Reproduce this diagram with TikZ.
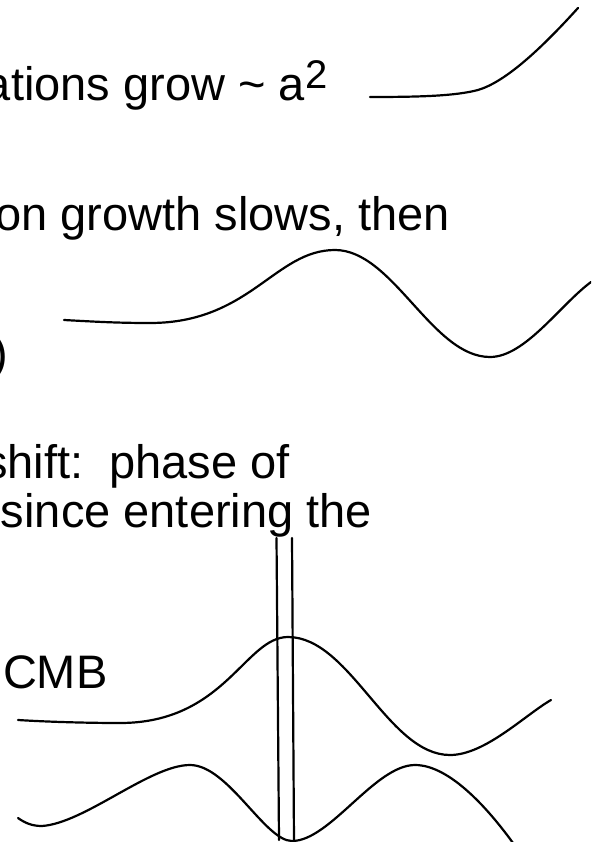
\documentclass[tikz,border=0pt]{standalone}
\usepackage{fontspec}
\setmainfont{Liberation Sans}
\begin{document}
\begin{tikzpicture}[x=1pt,y=-1pt,
  lbl/.style={inner sep=0pt, outer sep=0pt, font=\fontsize{47}{53}\selectfont\frenchspacing},
  wave/.style={line width=2.2pt, line cap=round, line join=round}]
\useasboundingbox (0,0) rectangle (591,842);
\clip (0,0) rectangle (591,842);
% texts
\node[lbl, anchor=base west] (t1) at (-15,101) {ations grow \textasciitilde{} a\raisebox{12pt}{\fontsize{40}{40}\selectfont 2}};
\node[lbl, anchor=base east] (t2) at (450,230) {on growth slows, then};
\node[lbl, anchor=base west] (t3) at (-8,369) {)};
\node[lbl, anchor=base west] (t4) at (-16,478) {shift:\ \ phase of};
\node[lbl, anchor=base east] (t5) at (372,527) {since entering the};
\node[lbl, anchor=base west] (t6) at (3,688) {CMB};
% curve 1: growth ~ a^2
\draw[wave] (370,97) .. controls (420,97) and (455,96) .. (478,90)
  .. controls (505,82) and (540,50) .. (578,8);
% curve 2: growth slows then oscillates
\draw[wave] (64,320) .. controls (100,322) and (120,323) .. (150,323)
  .. controls (250,323) and (275,250) .. (335,250)
  .. controls (393,250) and (432,357) .. (490,357)
  .. controls (525,357) and (560,305) .. (591,282);
% curve 3
\draw[wave] (18,720) .. controls (50,722) and (90,723) .. (120,723)
  .. controls (225,723) and (245,637) .. (288,637)
  .. controls (350,637) and (388,755) .. (450,755)
  .. controls (485,755) and (525,715) .. (551,700);
% curve 4
\draw[wave] (18,818) .. controls (25,823) and (32,826) .. (42,826)
  .. controls (85,823) and (150,765) .. (190,765)
  .. controls (228,765) and (265,841) .. (292,841)
  .. controls (330,841) and (375,765) .. (415,765)
  .. controls (450,765) and (490,810) .. (518,850);
% vertical lines
\coordinate (v1t) at (276.5,538);
\coordinate (v1b) at (279,840);
\coordinate (v2t) at (292,538);
\coordinate (v2b) at (294,842);
\draw[wave] (v1t) -- (v1b);
\draw[wave] (v2t) -- (v2b);
\end{tikzpicture}
\end{document}
